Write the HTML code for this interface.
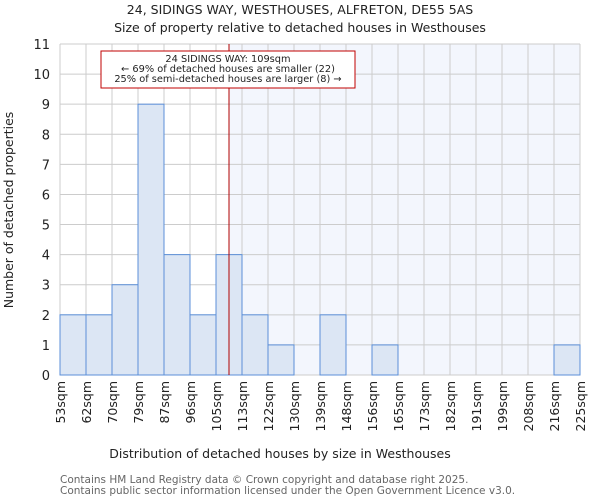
<!DOCTYPE html>
<html><head><meta charset="utf-8"><style>
body{margin:0;background:#fff;font-family:"DejaVu Sans","Liberation Sans",sans-serif}
svg text{font-family:"DejaVu Sans","Liberation Sans",sans-serif;fill:#222}
</style></head><body>
<svg id="c" width="600" height="500">
<text x="300" y="14" text-anchor="middle" font-size="12.5">24, SIDINGS WAY, WESTHOUSES, ALFRETON, DE55 5AS</text>
<text x="300" y="32" text-anchor="middle" font-size="12.5">Size of property relative to detached houses in Westhouses</text>
<g id="plot"></g>
<text x="280" y="458" text-anchor="middle" font-size="12.5">Distribution of detached houses by size in Westhouses</text>
<text transform="translate(13,210) rotate(-90)" text-anchor="middle" font-size="12.5">Number of detached properties</text>
<text x="60" y="483" font-size="10.5" style="fill:#666">Contains HM Land Registry data © Crown copyright and database right 2025.</text>
<text x="60" y="494" font-size="10.5" style="fill:#666">Contains public sector information licensed under the Open Government Licence v3.0.</text>
</svg>
<script>
const binLabels=["53sqm","62sqm","70sqm","79sqm","87sqm","96sqm","105sqm","113sqm","122sqm","130sqm","139sqm","148sqm","156sqm","165sqm","173sqm","182sqm","191sqm","199sqm","208sqm","216sqm","225sqm"];
const binEdges=[53,62,70,79,87,96,105,113,122,130,139,148,156,165,173,182,191,199,208,216,225];
const counts=[2,2,3,9,4,2,4,2,1,0,2,0,1,0,0,0,0,0,0,1];
const yTicks=[0,1,2,3,4,5,6,7,8,9,10,11];
const subjectSize=109;
const NS="http://www.w3.org/2000/svg";
const L=60,R=580,T=44,B=375,yMax=11;
const g=document.getElementById('plot');
const nb=counts.length;
function xi(i){return L+(R-L)*i/nb;}
function xv(v){let i=0;while(i<nb-1&&v>binEdges[i+1])i++;return xi(i)+(v-binEdges[i])/(binEdges[i+1]-binEdges[i])*(R-L)/nb;}
function y(v){return B-(B-T)*v/yMax;}
function mk(t,a){const e=document.createElementNS(NS,t);for(const k in a)e.setAttribute(k,a[k]);g.appendChild(e);return e;}
const sx=xv(subjectSize);
let e=mk('rect',{x:sx,y:T,width:R-sx,height:B-T,fill:'#f3f6fd'});


yTicks.forEach(t=>{
 let l=mk('line',{x1:L,x2:R,y1:y(t),y2:y(t),stroke:'#ccc','stroke-width':1});
 
 
 let tx=mk('text',{x:L-10,y:y(t)+5,'text-anchor':'end','font-size':13});
 tx.textContent=t;
 
 
});
binLabels.forEach((s,i)=>{
 let l=mk('line',{x1:xi(i),x2:xi(i),y1:T,y2:B,stroke:'#ccc','stroke-width':1});
 
 
 let tx=mk('text',{transform:`translate(${xi(i)+5},381) rotate(-90)`,'text-anchor':'end','font-size':12.5});
 tx.textContent=s;
 
 
});
counts.forEach((c,i)=>{
 if(c<=0)return;
 let r=mk('rect',{x:xi(i),y:y(c),width:(R-L)/nb,height:B-y(c),fill:'#dce6f4',stroke:'#5b8fd8','stroke-width':1});
 
 
});
e=mk('line',{x1:sx,x2:sx,y1:T,y2:B,stroke:'#b00000','stroke-width':1});


e=mk('rect',{x:101,y:51,width:254,height:37,fill:'#fff',stroke:'#c00000','stroke-width':1});


["24 SIDINGS WAY: 109sqm","← 69% of detached houses are smaller (22)","25% of semi-detached houses are larger (8) →"].forEach((s,k)=>{
 let t=mk('text',{x:228,y:62+k*10,'text-anchor':'middle','font-size':9.8});
 t.textContent=s;
 
 
});
</script>
</body></html>
